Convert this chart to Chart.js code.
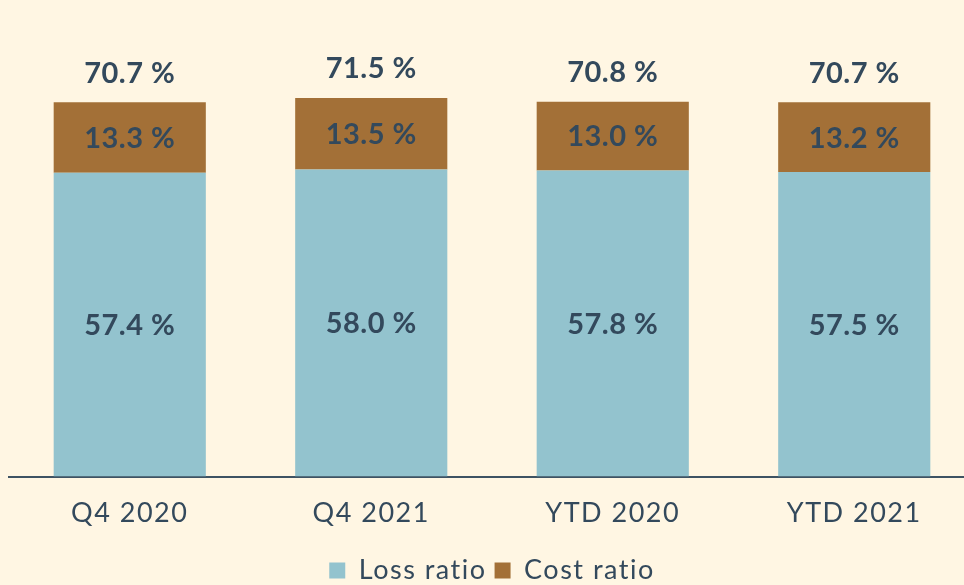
<!DOCTYPE html>
<html>
<head>
<meta charset="utf-8">
<script src="https://cdn.jsdelivr.net/npm/chart.js@4/dist/chart.umd.min.js"></script>
<style>
html,body{margin:0;padding:0;background:#FFF6E3;overflow:hidden;}
#wrap{width:975px;height:594px;position:relative;}
</style>
</head>
<body>
<div id="wrap"><canvas id="c"></canvas></div>
<script>
const categories = ['Q4 2020', 'Q4 2021', 'YTD 2020', 'YTD 2021'];
const lossRatio = [57.4, 58.0, 57.8, 57.5];
const costRatio = [13.3, 13.5, 13.0, 13.2];
const totals = [70.7, 71.5, 70.8, 70.7];

const textColor = '#33495C';
const fmt = v => v.toFixed(1) + ' %';

const spacingPlugin = {
  id: 'spacing',
  beforeLayout(chart) { chart.ctx.letterSpacing = '1.5px'; },
  beforeDraw(chart) { chart.ctx.letterSpacing = '1.5px'; }
};

const labelPlugin = {
  id: 'labels',
  afterDatasetsDraw(chart) {
    const ctx = chart.ctx;
    ctx.save();
    ctx.letterSpacing = '0.5px';
    ctx.fillStyle = textColor;
    ctx.textAlign = 'center';
    ctx.textBaseline = 'middle';
    ctx.font = 'bold 29px Lato';
    const m0 = chart.getDatasetMeta(0).data;
    const m1 = chart.getDatasetMeta(1).data;
    m0.forEach((el, i) => {
      ctx.fillText(fmt(lossRatio[i]), el.x, (el.y + el.base) / 2 + 1);
    });
    m1.forEach((el, i) => {
      ctx.fillText(fmt(costRatio[i]), el.x, (el.y + el.base) / 2 + 1);
      ctx.fillText(fmt(totals[i]), el.x, el.y - 29);
    });
    ctx.restore();
  }
};

new Chart(document.getElementById('c'), {
  type: 'bar',
  data: {
    labels: categories,
    datasets: [
      { label: 'Loss ratio', data: lossRatio, backgroundColor: '#93C3CE', borderWidth: 0 },
      { label: 'Cost ratio', data: costRatio, backgroundColor: '#A37037', borderWidth: 0 }
    ]
  },
  options: {
    responsive: true,
    maintainAspectRatio: false,
    animation: false,
    layout: { padding: { left: 9, right: 0, top: 0, bottom: 0 } },
    datasets: { bar: { categoryPercentage: 1.0, barPercentage: 0.63 } },
    scales: {
      x: {
        stacked: true,
        grid: { display: false, drawTicks: false },
        border: { display: true, color: '#3E5363', width: 2 },
        ticks: { color: textColor, font: { family: 'Lato', size: 27 }, padding: 20 }
      },
      y: {
        stacked: true,
        display: false,
        min: 0,
        max: 90
      }
    },
    plugins: {
      legend: {
        position: 'bottom',
        labels: {
          color: textColor,
          font: { family: 'Lato', size: 27 },
          boxWidth: 16,
          boxHeight: 16,
          padding: 8
        }
      },
      tooltip: { enabled: false }
    }
  },
  plugins: [spacingPlugin, labelPlugin]
});
</script>
</body>
</html>
